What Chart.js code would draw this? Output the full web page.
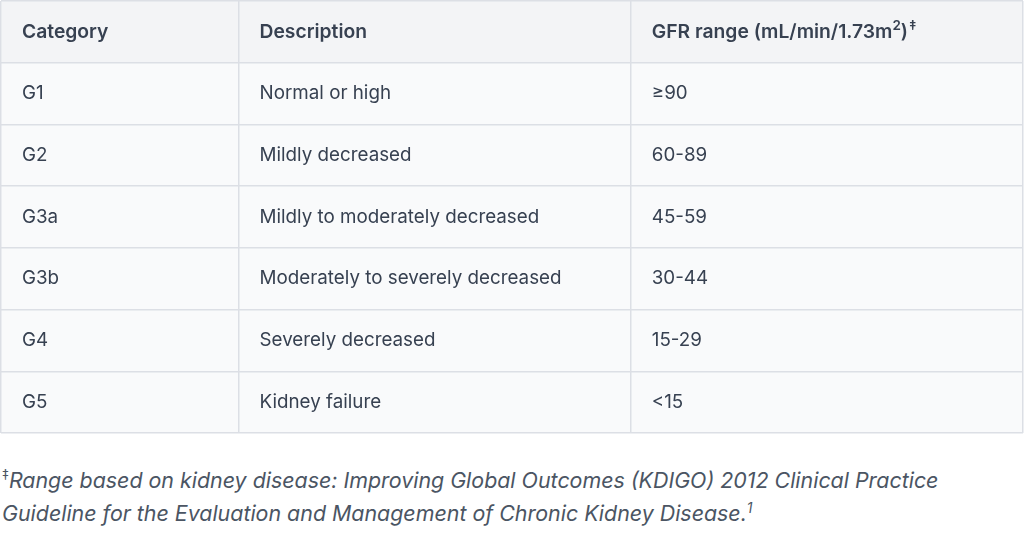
<!DOCTYPE html>
<html lang="en">
<head>
<meta charset="UTF-8">
<title>GFR categories</title>
<script src="https://cdn.jsdelivr.net/npm/chart.js"></script>
<style>
    * {
        padding: 0;
        margin: 0;
    }

    body {
        background-color: #ffffff;
        width: 1024px;
        height: 534px;
        overflow: hidden;
        font-family: Inter, "Noto Sans", sans-serif;
    }

    .tabela {
        position: relative;
        width: 1024px;
        height: 434px;
    }

    .nota {
        position: absolute;
        left: 2px;
        top: 464px;
        font-style: italic;
        font-size: 21.4px;
        line-height: 33px;
        color: #4b5563;
        white-space: nowrap;
    }

    .nota sup {
        font-size: 14px;
        vertical-align: 8px;
        line-height: 0;
    }
</style>
</head>
<body>
<div class="tabela">
    <canvas id="tabelaGfr"></canvas>
</div>
<p class="nota"><sup style="font-style:normal">‡</sup>Range based on kidney disease: Improving Global Outcomes (KDIGO) 2012 Clinical Practice<br>Guideline for the Evaluation and Management of Chronic Kidney Disease.<sup>1</sup></p>

<script>
// dados da tabela
const headers = ['Category', 'Description', 'GFR range (mL/min/1.73m2)‡'];
const categories = ['G1', 'G2', 'G3a', 'G3b', 'G4', 'G5'];
const descriptions = ['Normal or high', 'Mildly decreased', 'Mildly to moderately decreased',
    'Moderately to severely decreased', 'Severely decreased', 'Kidney failure'];
const gfrRanges = ['≥90', '60-89', '45-59', '30-44', '15-29', '<15'];

// layout (px along the x scale)
const colEdges = [0, 238, 631, 1024];
const cellPadding = 21;
const textColor = '#374151';
const lineColor = '#dcdfe5';
const fontSize = 18.8;
const headFontSize = 19.3;
const supSize = 13.5;

const rowLabels = ['header'].concat(categories);
const rows = [headers].concat(categories.map((c, i) => [c, descriptions[i], gfrRanges[i]]));

function drawHeaderCell(ctx, text, x, y) {
    // superscripts for the last header
    const m = text.match(/^(.*m)2\)‡$/);
    ctx.font = '600 ' + headFontSize + 'px Inter';
    if (!m) {
        ctx.fillText(text, x, y);
        return;
    }
    ctx.fillText(m[1], x, y);
    x += ctx.measureText(m[1]).width;
    ctx.font = '600 ' + supSize + 'px Inter';
    ctx.fillText('2', x, y - 6);
    x += ctx.measureText('2').width;
    ctx.font = '600 ' + headFontSize + 'px Inter';
    ctx.fillText(')', x, y);
    x += ctx.measureText(')').width + 1;
    ctx.font = '600 ' + supSize + 'px Inter';
    ctx.fillText('‡', x, y - 6);
}

const textoCelulas = {
    id: 'textoCelulas',
    afterDraw(chart) {
        const ctx = chart.ctx;
        const xs = chart.scales.x;
        const ys = chart.scales.y;
        ctx.save();
        ctx.fillStyle = textColor;
        ctx.textBaseline = 'middle';
        ctx.textAlign = 'left';
        rows.forEach((row, i) => {
            const y = ys.getPixelForValue(i);
            row.forEach((cell, j) => {
                const x = xs.getPixelForValue(colEdges[j]) + cellPadding;
                if (i === 0) {
                    drawHeaderCell(ctx, cell, x, y);
                } else {
                    ctx.font = '400 ' + fontSize + 'px Inter';
                    ctx.fillText(cell, x, y);
                }
            });
        });
        ctx.restore();
    }
};

new Chart(document.getElementById('tabelaGfr'), {
    type: 'bar',
    data: {
        labels: rowLabels,
        datasets: [{
            data: rowLabels.map(() => [colEdges[0], colEdges[colEdges.length - 1]]),
            backgroundColor: rowLabels.map((r, i) => i === 0 ? '#f3f4f6' : '#f9fafb'),
            borderWidth: 0,
            barPercentage: 1,
            categoryPercentage: 1
        }]
    },
    options: {
        indexAxis: 'y',
        responsive: true,
        maintainAspectRatio: false,
        animation: false,
        layout: { padding: 1 },
        plugins: {
            legend: { display: false },
            tooltip: { enabled: false }
        },
        scales: {
            x: {
                type: 'linear',
                min: colEdges[0],
                max: colEdges[colEdges.length - 1],
                afterBuildTicks: (scale) => {
                    scale.ticks = colEdges.map(v => ({ value: v }));
                },
                ticks: { display: false },
                grid: { color: lineColor, lineWidth: 1.5, drawTicks: false, z: 1 },
                border: { display: false }
            },
            y: {
                type: 'category',
                offset: true,
                ticks: { display: false },
                grid: { offset: true, color: lineColor, lineWidth: 1.5, drawTicks: false, z: 1 },
                border: { display: false }
            }
        }
    },
    plugins: [textoCelulas]
});
</script>
</body>
</html>
